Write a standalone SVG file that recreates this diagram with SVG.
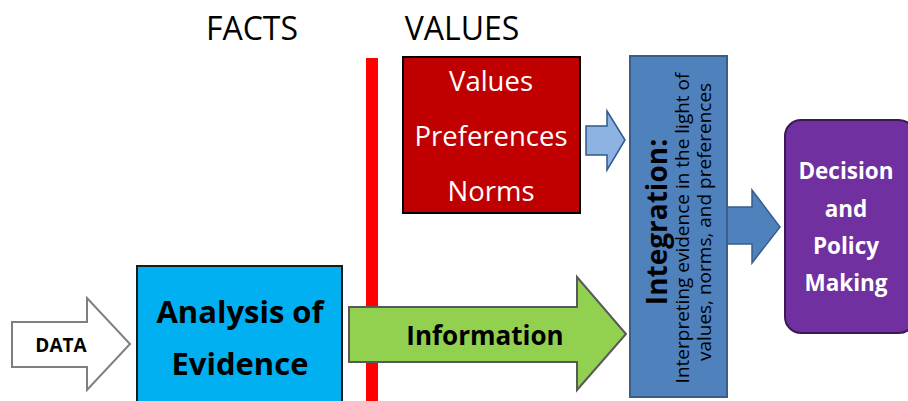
<svg xmlns="http://www.w3.org/2000/svg" width="908" height="401" viewBox="0 0 908 401">
<style>
text{font-family:"Open Sans","Liberation Sans",sans-serif;text-anchor:middle}
.b{font-weight:bold}
.w{fill:#fff}
.hd{font-size:32px;fill:#000}
</style>
<rect width="908" height="401" fill="#fff"/>
<g id="headers">
<text class="hd" x="252" y="40">FACTS</text>
<text class="hd" x="462" y="40">VALUES</text>
</g>
<g id="divider"><rect x="366" y="58" width="12" height="343" fill="#ff0000"/></g>
<g id="connectors">
<path id="data-arrow" d="M12,322 H87 V298 L130,344 L87,390 V367 H12 Z" fill="#fff" stroke="#7f7f7f" stroke-width="2"/>
<path id="info-arrow" d="M349,307 H577 V277 L626,334 L577,390 V362 H349 Z" fill="#92d050" stroke="#595959" stroke-width="2"/>
<path id="values-arrow" d="M586,126 H607 V111 L625,140 L607,170 V155 H586 Z" fill="#8db3e2" stroke="#2e5a8a" stroke-width="1.5"/>
<path id="decision-arrow" d="M727,207 H752 V190 L780,227 L752,263 V244 H727 Z" fill="#4f81bd" stroke="#385d8a" stroke-width="1.5"/>
</g>
<g id="data"><text class="b" x="61" y="352" font-size="19">DATA</text></g>
<g id="analysis">
<rect x="137" y="266" width="205" height="140" fill="#00b0f0" stroke="#1a1a1a" stroke-width="2"/>
<text class="b" x="240" y="323" font-size="31">Analysis of</text>
<text class="b" x="240" y="375" font-size="31">Evidence</text>
</g>
<g id="information"><text class="b" x="485" y="345" font-size="26">Information</text></g>
<g id="values">
<rect x="403" y="57" width="177" height="156" fill="#c00000" stroke="#000" stroke-width="2"/>
<text class="w" x="491" y="91" font-size="27.5">Values</text>
<text class="w" x="491" y="146" font-size="27.5">Preferences</text>
<text class="w" x="491" y="201" font-size="27.5">Norms</text>
</g>
<g id="integration">
<rect x="630" y="56" width="97" height="341" fill="#4f81bd" stroke="#385d8a" stroke-width="2"/>
<text class="b" transform="translate(667,222) rotate(-90)" x="0" y="0" font-size="28">Integration:</text>
<text transform="translate(689,228) rotate(-90)" x="0" y="0" font-size="19">Interpreting evidence in the light of</text>
<text transform="translate(711,222) rotate(-90)" x="0" y="0" font-size="19">values, norms, and preferences</text>
</g>
<g id="decision">
<rect x="785" y="120" width="130" height="213" rx="16" fill="#7030a0" stroke="#3a1a55" stroke-width="2"/>
<text class="b w" x="846" y="179" font-size="22.5">Decision</text>
<text class="b w" x="846" y="217" font-size="22.5">and</text>
<text class="b w" x="846" y="254" font-size="22.5">Policy</text>
<text class="b w" x="846" y="291" font-size="22.5">Making</text>
</g>
</svg>
